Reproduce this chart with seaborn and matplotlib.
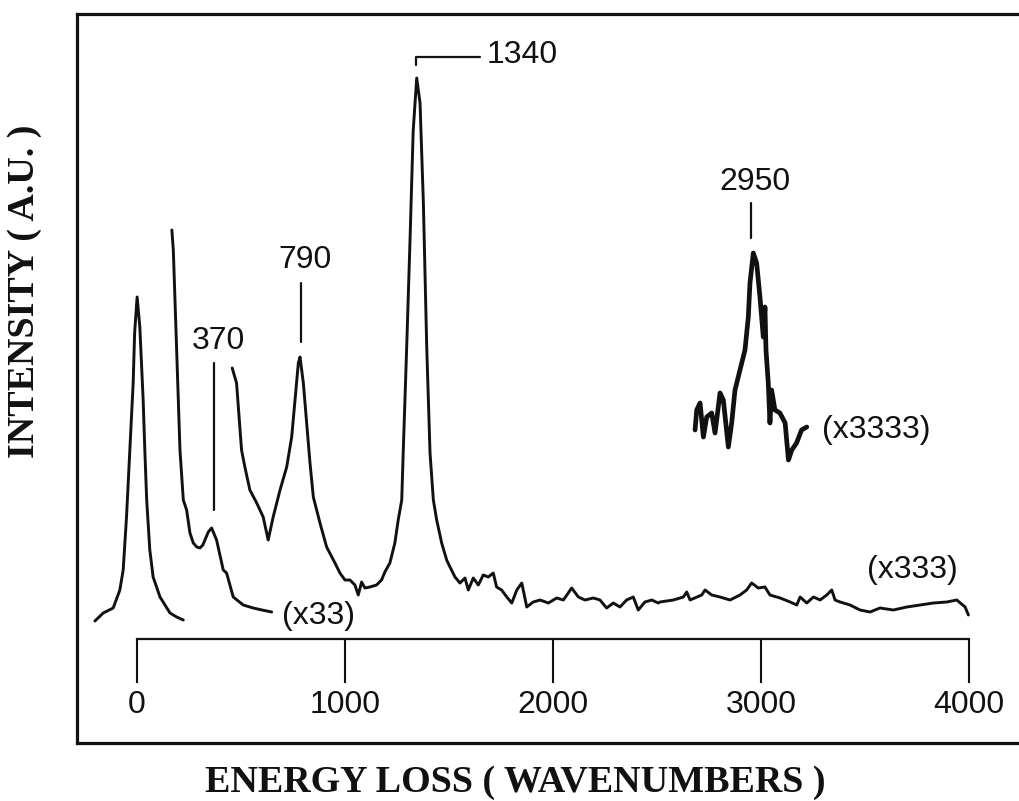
import numpy as np
import pandas as pd
import matplotlib
matplotlib.use("Agg")
import matplotlib.pyplot as plt
import seaborn as sns

# Elastic (zero-loss) peak, unscaled
elastic_x = [-202, -162, -114, -82, -66, -50, -34, -18, -11, 1, 14, 30, 38, 47, 62, 78, 111, 159, 191, 223]
elastic_y = [18, 26, 31, 49, 69, 122, 189, 256, 306, 342, 312, 239, 189, 139, 89, 62, 42, 26, 22, 19]

# Loss spectrum magnified x33
x33_x = [168, 175, 191, 207, 223, 239, 255, 271, 288, 303, 317, 343, 359, 383, 415, 431, 463, 511, 559, 601, 648]
x33_y = [409, 389, 289, 189, 139, 129, 106, 96, 92, 91, 94, 107, 111, 99, 69, 66, 42, 34, 31, 29, 27]

# Loss spectrum magnified x333
x333_x = [458, 479, 503, 519, 543, 576, 607, 631, 655, 688, 720, 744, 760, 776, 784, 800, 816, 832, 848, 880,
          912, 952, 976, 1000, 1024, 1048, 1064, 1080, 1096, 1120, 1152, 1176, 1192, 1216, 1240, 1256, 1273,
          1280, 1297, 1313, 1328, 1345, 1361, 1377, 1393, 1409, 1425, 1441, 1465, 1489, 1505, 1529, 1553, 1577,
          1593, 1617, 1641, 1665, 1689, 1713, 1729, 1753, 1778, 1802, 1826, 1850, 1874, 1905, 1938, 1978, 2018,
          2050, 2090, 2122, 2154, 2194, 2226, 2258, 2290, 2322, 2354, 2386, 2410, 2442, 2475, 2506, 2514, 2579,
          2627, 2643, 2659, 2715, 2731, 2763, 2803, 2851, 2899, 2931, 2955, 2987, 3019, 3043, 3092, 3140, 3172,
          3188, 3220, 3252, 3284, 3316, 3340, 3356, 3380, 3428, 3476, 3524, 3572, 3636, 3701, 3765, 3829, 3893,
          3941, 3981, 3997]
x333_y = [271, 256, 189, 172, 149, 136, 122, 99, 122, 149, 172, 202, 239, 276, 282, 256, 216, 176, 142, 116,
          92, 76, 66, 59, 59, 54, 44, 57, 51, 52, 54, 59, 67, 76, 96, 119, 139,
          186, 293, 400, 508, 561, 536, 436, 293, 186, 139, 119, 96, 79, 72, 62, 56, 61,
          49, 61, 54, 64, 62, 66, 52, 49, 42, 36, 49, 56, 32, 37, 39, 36, 41,
          39, 51, 42, 39, 41, 39, 31, 36, 32, 39, 42, 29, 37, 39, 36, 37, 39,
          42, 47, 39, 44, 49, 44, 42, 39, 44, 49, 56, 51, 52, 44, 41, 37, 34,
          42, 36, 42, 39, 44, 49, 39, 37, 34, 29, 27, 31, 29, 32, 34, 36, 37,
          39, 32, 24]

# C-H stretch region magnified x3333
x3333_x = [2683, 2691, 2707, 2723, 2739, 2763, 2779, 2803, 2819, 2843, 2859, 2875, 2899, 2923, 2939, 2947,
           2963, 2979, 2995, 3011, 3019, 3024, 3035, 3043, 3051, 3067, 3091, 3116, 3132, 3148, 3171, 3195, 3220]
x3333_y = [209, 229, 236, 202, 222, 226, 206, 246, 239, 192, 216, 249, 269, 289, 322, 356,
           386, 376, 342, 302, 332, 289, 256, 216, 249, 229, 226, 216, 179, 189, 196, 209, 212]

# Peak assignments
peak_labels = ["370", "790", "1340", "2950"]
tick_values = [0, 1000, 2000, 3000, 4000]
tick_labels = ["0", "1000", "2000", "3000", "4000"]
gain_labels = ["(x33)", "(x333)", "(x3333)"]

sns.set_theme(style="white")
plt.rcParams["font.family"] = ["Liberation Sans", "DejaVu Sans"]

fig = plt.figure(figsize=(10.20, 8.01), dpi=100)
ax = fig.add_axes([77 / 1020, 58 / 801, 943 / 1020, 729 / 801])

ink = "#111111"
lw = 2.1
curves = [
    (elastic_x, elastic_y, lw),
    (x33_x, x33_y, lw),
    (x333_x, x333_y, lw),
    (x3333_x, x3333_y, 3.4),
]
for xs, ys, w in curves:
    df = pd.DataFrame({"loss": xs, "intensity": ys})
    sns.lineplot(data=df, x="loss", y="intensity", ax=ax, color=ink, linewidth=w,
                 estimator=None, sort=False, solid_joinstyle="round", solid_capstyle="round")

ax.set_xlim(-288, 4245)
ax.set_ylim(-104, 625)
ax.set_xticks([])
ax.set_yticks([])

for side in ["left", "top", "bottom"]:
    ax.spines[side].set_visible(True)
    ax.spines[side].set_color(ink)
    ax.spines[side].set_linewidth(2.3)
ax.spines["right"].set_visible(False)

# Energy-loss scale drawn inside the frame
sec = ax.secondary_xaxis(104 / 729)
sec.set_xticks(tick_values)
sec.set_xticklabels(tick_labels)
sec.spines["bottom"].set_bounds(0, 4000)
sec.spines["bottom"].set_linewidth(1.6)
sec.spines["bottom"].set_color(ink)
sec.tick_params(axis="x", direction="out", length=31.5, width=1.5, color=ink,
                pad=5, labelsize=23, labelcolor=ink)

num_font = dict(fontsize=23, color=ink, family=["Liberation Sans", "DejaVu Sans"])

# Peak markers
ax.plot([370, 370], [129, 276], color=ink, lw=1.6)
ax.text(394, 298, peak_labels[0], ha="center", va="center", **num_font)
ax.plot([790, 790], [297, 356], color=ink, lw=1.6)
ax.text(808, 379, peak_labels[1], ha="center", va="center", **num_font)
ax.plot([1340, 1340, 1649], [574, 582, 582], color=ink, lw=1.6)
ax.text(1683, 584, peak_labels[2], ha="left", va="center", **num_font)
ax.plot([2950, 2950], [401, 436], color=ink, lw=1.6)
ax.text(2971, 457, peak_labels[3], ha="center", va="center", **num_font)

# Gain factors
ax.text(697, 23, gain_labels[0], ha="left", va="center", **num_font)
ax.text(3510, 69, gain_labels[1], ha="left", va="center", **num_font)
ax.text(3293, 209, gain_labels[2], ha="left", va="center", **num_font)

title_font = dict(fontsize=27.4, color=ink, family=["Liberation Serif", "DejaVu Serif"], fontweight="bold")
ax.set_ylabel("INTENSITY ( A.U. )", **title_font)
ax.yaxis.set_label_coords((25 - 77) / 943, (743 - 291) / 729)
ax.yaxis.label.set_va("center")
ax.set_xlabel("ENERGY LOSS ( WAVENUMBERS )", **title_font)
ax.xaxis.set_label_coords((515 - 77) / 943, (743 - 783) / 729)
ax.xaxis.label.set_va("center")

fig.savefig("out.png", dpi=100, facecolor="white")
